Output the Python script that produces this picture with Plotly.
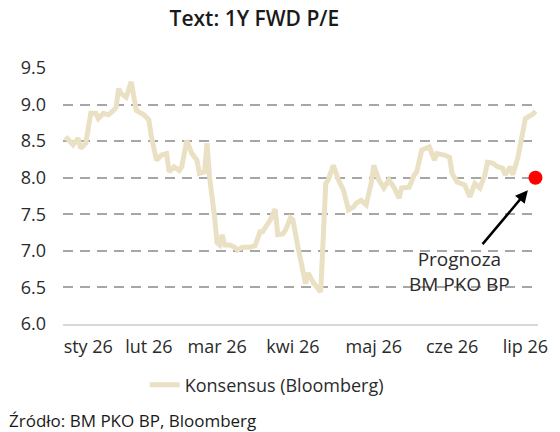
import plotly.graph_objects as go

dates = [
    "2026-01-01", "2026-01-04", "2026-01-06", "2026-01-07", "2026-01-09", "2026-01-11",
    "2026-01-13", "2026-01-14", "2026-01-16", "2026-01-18", "2026-01-20", "2026-01-21",
    "2026-01-22", "2026-01-23", "2026-01-25", "2026-01-27", "2026-01-29", "2026-02-01",
    "2026-02-03", "2026-02-04", "2026-02-06", "2026-02-08", "2026-02-10", "2026-02-11",
    "2026-02-13", "2026-02-15", "2026-02-16", "2026-02-18", "2026-02-20", "2026-02-22",
    "2026-02-23", "2026-02-25", "2026-02-26", "2026-02-27", "2026-03-01", "2026-03-02",
    "2026-03-03", "2026-03-04", "2026-03-05", "2026-03-07", "2026-03-09", "2026-03-10",
    "2026-03-12", "2026-03-15", "2026-03-17", "2026-03-19", "2026-03-20", "2026-03-23",
    "2026-03-25", "2026-03-26", "2026-03-28", "2026-03-29", "2026-03-31", "2026-04-01",
    "2026-04-03", "2026-04-05", "2026-04-06", "2026-04-07", "2026-04-09", "2026-04-12",
    "2026-04-14", "2026-04-15", "2026-04-17", "2026-04-19", "2026-04-21", "2026-04-23",
    "2026-04-25", "2026-04-26", "2026-04-28", "2026-04-30", "2026-05-02", "2026-05-03",
    "2026-05-05", "2026-05-07", "2026-05-09", "2026-05-11", "2026-05-13", "2026-05-14",
    "2026-05-17", "2026-05-19", "2026-05-20", "2026-05-22", "2026-05-24", "2026-05-25",
    "2026-05-27", "2026-05-28", "2026-05-31", "2026-06-02", "2026-06-03", "2026-06-05",
    "2026-06-08", "2026-06-09", "2026-06-10", "2026-06-12", "2026-06-14", "2026-06-16",
    "2026-06-17", "2026-06-19", "2026-06-21", "2026-06-23", "2026-06-24", "2026-06-26",
    "2026-06-27", "2026-06-29", "2026-07-01", "2026-07-02", "2026-07-03", "2026-07-05",
    "2026-07-06",
]
consensus = [
    8.56, 8.45, 8.54, 8.40, 8.47, 8.88,
    8.88, 8.81, 8.88, 8.86, 8.92, 8.96,
    9.22, 9.15, 9.10, 9.31, 8.92, 8.86,
    8.79, 8.56, 8.24, 8.31, 8.33, 8.08,
    8.15, 8.10, 8.15, 8.51, 8.33, 8.24,
    8.06, 8.08, 8.47, 8.01, 7.46, 7.11,
    7.08, 7.22, 7.08, 7.08, 7.05, 7.01,
    7.05, 7.05, 7.07, 7.26, 7.26, 7.42,
    7.57, 7.22, 7.23, 7.28, 7.45, 7.42,
    7.05, 6.74, 6.55, 6.70, 6.57, 6.44,
    7.92, 7.97, 8.17, 7.97, 7.83, 7.56,
    7.60, 7.65, 7.69, 7.63, 7.93, 8.17,
    7.97, 7.86, 7.97, 7.87, 7.72, 7.86,
    7.87, 8.04, 8.08, 8.38, 8.40, 8.42,
    8.24, 8.33, 8.31, 8.28, 8.06, 7.94,
    7.90, 7.80, 7.74, 7.92, 7.86, 8.04,
    8.21, 8.20, 8.15, 8.13, 8.04, 8.15,
    8.04, 8.27, 8.61, 8.81, 8.83, 8.87,
    8.91,
]

forecast_date = ["2026-07-06"]
forecast_value = [8.0]

tick_dates = ["2026-01-10", "2026-02-03", "2026-03-02", "2026-04-01", "2026-05-03", "2026-06-03", "2026-07-02"]
tick_labels = ["sty 26", "lut 26", "mar 26", "kwi 26", "maj 26", "cze 26", "lip 26"]
y_ticks = [6.0, 6.5, 7.0, 7.5, 8.0, 8.5, 9.0, 9.5]

FONT = "Open Sans"
TXT = "#2b2b2b"

fig = go.Figure()
fig.add_trace(go.Scatter(
    x=dates, y=consensus, mode="lines", name="Konsensus (Bloomberg)",
    line=dict(color="#EAE0C4", width=5),
))
fig.add_trace(go.Scatter(
    x=forecast_date, y=forecast_value, mode="markers", showlegend=False,
    marker=dict(color="#FF0000", size=14), cliponaxis=False,
))

fig.add_annotation(
    x="2026-07-03", y=7.83, xref="x", yref="y",
    text="Prognoza<br>BM PKO BP", showarrow=True,
    ax=-68, ay=81, arrowhead=2, arrowsize=1, arrowwidth=2.5, arrowcolor="#000000",
    font=dict(family=FONT, size=19, color=TXT),
)
fig.add_annotation(
    x=-0.118, y=-0.378, xref="paper", yref="paper", xanchor="left", yanchor="middle",
    text="Źródło: BM PKO BP, Bloomberg", showarrow=False,
    font=dict(family=FONT, size=17, color="#1a1a1a"),
)

fig.update_layout(
    width=560, height=432,
    margin=dict(l=63, r=15, t=68, b=108),
    paper_bgcolor="white", plot_bgcolor="white",
    title=dict(text="Text: 1Y FWD P/E", x=0.403, xref="paper", xanchor="center", y=0.956, yanchor="middle",
               font=dict(family=FONT, size=21, color="#1a1a1a", weight=600)),
    font=dict(family=FONT, color=TXT),
    showlegend=True,
    legend=dict(orientation="h", x=0.172, xanchor="left", y=-0.238, yanchor="middle",
                font=dict(family=FONT, size=18, color=TXT)),
    xaxis=dict(
        type="date", range=["2025-12-31", "2026-07-07"],
        tickvals=tick_dates, ticktext=tick_labels,
        showgrid=False, showline=True, linecolor="#D9D9D9", linewidth=2,
        ticks="", tickfont=dict(family=FONT, size=18, color=TXT),
        ticklabelstandoff=5, zeroline=False,
    ),
    yaxis=dict(
        range=[6.0, 9.5], tickvals=y_ticks, ticktext=[f"{v:.1f}" for v in y_ticks],
        showgrid=True, gridcolor="#A6A6A6", gridwidth=2, griddash="10px,7px",
        showline=False, zeroline=False, ticks="",
        tickfont=dict(family=FONT, size=18, color=TXT), ticklabelstandoff=16,
    ),
)

fig.write_html("out.html", config={"displayModeBar": False},
               post_script="document.body.style.margin='0';document.body.style.padding='0';")
